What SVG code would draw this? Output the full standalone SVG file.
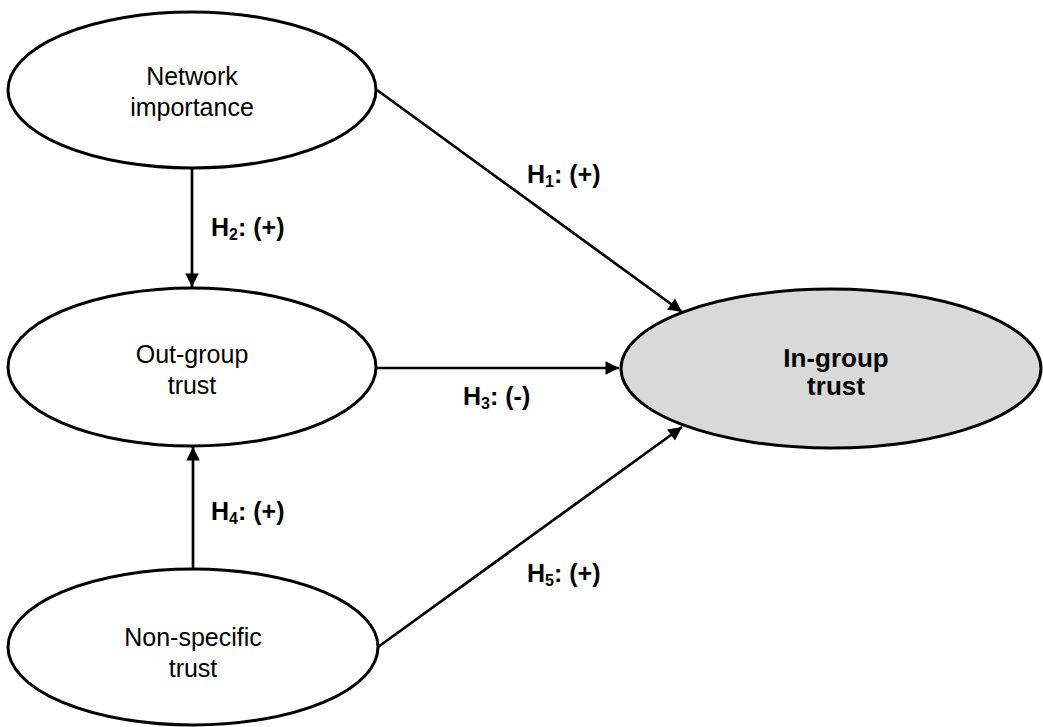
<svg xmlns="http://www.w3.org/2000/svg" width="1043" height="727" viewBox="0 0 1043 727">
<style>
.node{fill:#fff;stroke:#000;stroke-width:3}
.dep{fill:#d9d9d9;stroke:#000;stroke-width:3}
.t{font-family:"Liberation Sans",Arial,sans-serif;font-size:25px;fill:#000;text-anchor:middle}
.tb{font-family:"Liberation Sans",Arial,sans-serif;font-size:26px;font-weight:bold;fill:#000;text-anchor:middle}
.lab{font-family:"Liberation Sans",Arial,sans-serif;font-size:25px;font-weight:bold;fill:#000}
.sub{font-size:16px}
.edge{stroke:#000;stroke-width:2.7;fill:none;marker-end:url(#ah)}
</style>
<defs>
<marker id="ah" viewBox="0 0 10 10" refX="10" refY="5" markerWidth="6" markerHeight="5" markerUnits="strokeWidth" orient="auto">
<path d="M0,0 L10,5 L0,10 z" fill="#000"/>
</marker>
</defs>
<rect width="1043" height="727" fill="#fff"/>
<g id="connectors">
<line class="edge" x1="377" y1="90" x2="682" y2="312"/>
<line class="edge" x1="192" y1="168" x2="192" y2="287"/>
<line class="edge" x1="377" y1="368" x2="619" y2="368"/>
<line class="edge" x1="193" y1="569" x2="193" y2="447"/>
<line class="edge" x1="378" y1="647" x2="682" y2="427"/>
<text class="lab" x="527" y="183">H<tspan class="sub" dy="4">1</tspan><tspan dy="-4">: (+)</tspan></text>
<text class="lab" x="211" y="236">H<tspan class="sub" dy="4">2</tspan><tspan dy="-4">: (+)</tspan></text>
<text class="lab" x="463" y="405">H<tspan class="sub" dy="4">3</tspan><tspan dy="-4">: (-)</tspan></text>
<text class="lab" x="211" y="520">H<tspan class="sub" dy="4">4</tspan><tspan dy="-4">: (+)</tspan></text>
<text class="lab" x="527" y="582">H<tspan class="sub" dy="4">5</tspan><tspan dy="-4">: (+)</tspan></text>
</g>
<g id="network-importance">
<ellipse class="node" cx="192" cy="90" rx="184" ry="78"/>
<text class="t" x="192" y="85">Network</text>
<text class="t" x="192" y="116">importance</text>
</g>
<g id="out-group-trust">
<ellipse class="node" cx="192" cy="367" rx="184" ry="79"/>
<text class="t" x="192" y="363">Out-group</text>
<text class="t" x="192" y="394">trust</text>
</g>
<g id="non-specific-trust">
<ellipse class="node" cx="193" cy="647" rx="185" ry="78"/>
<text class="t" x="193" y="646">Non-specific</text>
<text class="t" x="193" y="677">trust</text>
</g>
<g id="in-group-trust">
<ellipse class="dep" cx="831" cy="368.5" rx="210" ry="79.5"/>
<text class="tb" x="836" y="367">In-group</text>
<text class="tb" x="836" y="395">trust</text>
</g>
</svg>
